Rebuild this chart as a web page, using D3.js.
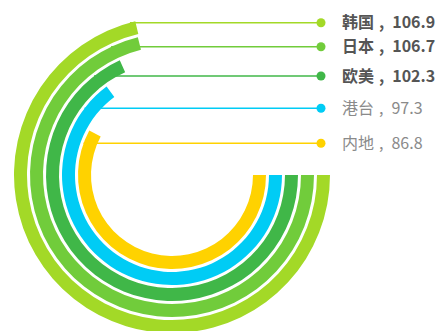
<!DOCTYPE html>
<html>
<head>
<meta charset="utf-8">
<script src="https://cdn.jsdelivr.net/npm/d3@7/dist/d3.min.js"></script>
<style>
  html, body { margin: 0; padding: 0; background: #fff; }
  svg { display: block; }
  text { font-family: "Noto Sans CJK SC", "Noto Sans", sans-serif; }
</style>
</head>
<body>
<svg id="chart" width="437" height="331"></svg>
<script>
// Series data, outermost ring first
const regions = ["韩国", "日本", "欧美", "港台", "内地"];
const values = [106.9, 106.7, 102.3, 97.3, 86.8];
const angleMax = 150;            // full circle corresponds to this value

// Presentation
const colors = ["#a3d927", "#71cc3b", "#40b748", "#00ccf5", "#ffd200"];
const boldCount = 3;             // leading entries shown in bold
const labelY = [22.7, 46.7, 76, 108.3, 143.3];

const width = 437, height = 331;
const cx = 172, cy = 175;
const innerR = 81, outerR = 158;
const dotX = 321, textX = 342;

const svg = d3.select("#chart");

// Angle: start at 3 o'clock, clockwise
const angle = d3.scaleLinear()
  .domain([0, angleMax])
  .range([Math.PI / 2, Math.PI / 2 + 2 * Math.PI]);

// Radial band per region; first region is the outermost ring
const radius = d3.scaleBand()
  .domain(regions.slice().reverse())
  .range([innerR, outerR])
  .paddingInner(0.1875);

const arc = d3.arc()
  .innerRadius(d => radius(d.name))
  .outerRadius(d => radius(d.name) + radius.bandwidth())
  .startAngle(angle(0))
  .endAngle(d => angle(d.value));

const data = regions.map((name, i) => ({
  name, value: values[i], color: colors[i], y: labelY[i], bold: i < boldCount
}));

// Leader lines (drawn beneath the rings, emerging from each ring's end)
const leaders = svg.append("g");
leaders.selectAll("line")
  .data(data)
  .join("line")
  .attr("x1", d => {
    const r = radius(d.name) + radius.bandwidth();
    const dy = d.y - cy;
    return Math.abs(dy) < r ? cx - Math.sqrt(r * r - dy * dy) : cx;
  })
  .attr("x2", dotX)
  .attr("y1", d => d.y)
  .attr("y2", d => d.y)
  .attr("stroke", d => d.color)
  .attr("stroke-width", 1.6);

// Rings
svg.append("g")
  .attr("transform", `translate(${cx},${cy})`)
  .selectAll("path")
  .data(data)
  .join("path")
  .attr("d", arc)
  .attr("fill", d => d.color);

// Dots
svg.append("g")
  .selectAll("circle")
  .data(data)
  .join("circle")
  .attr("cx", dotX)
  .attr("cy", d => d.y)
  .attr("r", 4.5)
  .attr("fill", d => d.color);

// Labels: name , value
const labels = svg.append("g")
  .selectAll("text")
  .data(data)
  .join("text")
  .attr("x", textX)
  .attr("y", d => d.y)
  .attr("dy", "0.36em")
  .attr("font-size", 16)
  .attr("font-weight", d => d.bold ? 700 : 400)
  .attr("fill", d => d.bold ? "#555555" : "#8a8a8a");

labels.append("tspan").text(d => d.name);
labels.append("tspan").attr("dx", 5).text(",");
labels.append("tspan").attr("dx", 8).text(d => d.value);
</script>
</body>
</html>
